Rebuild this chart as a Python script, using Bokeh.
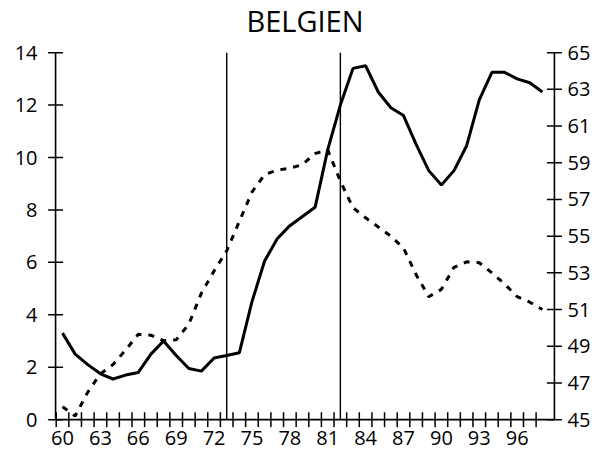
import math
from bokeh.plotting import figure
from bokeh.models import Range1d, LinearAxis, FixedTicker, ColumnDataSource, Label
from bokeh.embed import file_html
from bokeh.resources import INLINE

years = list(range(60, 99))
unemployment = [3.3, 2.5, 2.1, 1.75, 1.55, 1.7, 1.8, 2.5, 3.0, 2.45,
                1.95, 1.85, 2.35, 2.45, 2.55, 4.5, 6.05, 6.9, 7.4, 7.75,
                8.1, 10.3, 12.0, 13.4, 13.5, 12.5, 11.9, 11.6, 10.5, 9.5,
                8.95, 9.5, 10.45, 12.2, 13.25, 13.25, 13.0, 12.85, 12.5]
expenditure = [45.7, 45.2, 46.5, 47.5, 48.0, 48.8, 49.65, 49.6, 49.3, 49.35,
               50.2, 51.9, 53.1, 54.2, 55.8, 57.4, 58.35, 58.6, 58.7, 58.9,
               59.5, 59.7, 58.0, 56.55, 56.0, 55.5, 55.0, 54.35, 52.9, 51.7,
               52.1, 53.3, 53.6, 53.55, 53.0, 52.4, 51.7, 51.4, 51.0]
break_years = [73, 82]
x_labels = list(range(60, 97, 3))
x_tick_marks = [y - 0.5 for y in range(60, 99)]
left_ticks = list(range(0, 15, 2))
right_ticks = list(range(45, 66, 2))

FONT = "Open Sans"
# axis extents
AX0, AX1 = 59.45, 98.95      # x axis (years)
L0, L1 = 0, 14               # left axis
R0, R1 = 45, 65              # right axis
# frame extents (a little beyond the axes so the crossing ticks fit)
FX0, FX1 = 58.81, 99.59
FL0, FL1 = -0.3, 15.99


def to_right(v):
    return R0 + (v - L0) * (R1 - R0) / (L1 - L0)


p = figure(width=600, height=462,
           x_range=Range1d(FX0, FX1), y_range=Range1d(FL0, FL1),
           output_backend="svg", toolbar_location=None,
           min_border_left=47, min_border_right=38,
           min_border_top=0, min_border_bottom=35)
p.extra_y_ranges = {"right": Range1d(to_right(FL0), to_right(FL1))}
p.outline_line_color = None
p.xgrid.visible = False
p.ygrid.visible = False

# label-only axes
xa = p.xaxis[0]
xa.ticker = FixedTicker(ticks=x_labels)
xa.major_label_standoff = 3

ya = p.yaxis[0]
ya.ticker = FixedTicker(ticks=left_ticks)
ya.major_label_standoff = 10

ra = LinearAxis(y_range_name="right", ticker=FixedTicker(ticks=right_ticks))
ra.major_label_standoff = 5
p.add_layout(ra, "right")

for ax in [xa, ya, ra]:
    ax.axis_line_color = None
    ax.major_tick_line_color = None
    ax.minor_tick_line_color = None
    ax.major_tick_in = 0
    ax.major_tick_out = 0
    ax.minor_tick_in = 0
    ax.minor_tick_out = 0
    ax.major_label_text_font = FONT
    ax.major_label_text_font_size = "20px"
    ax.major_label_text_color = "black"

# axis lines
p.segment(x0=[AX0, AX0], y0=[L0, L0], x1=[AX1, AX0], y1=[L0, L1],
          line_color="black", line_width=1.6)
p.segment(x0=[AX1], y0=[R0], x1=[AX1], y1=[R1], y_range_name="right",
          line_color="black", line_width=1.6)

# crossing ticks
p.scatter(x=x_tick_marks, y=[L0] * len(x_tick_marks), marker="dash",
          angle=math.pi / 2, size=15, line_color="black", line_width=1.5)
p.scatter(x=[AX0] * len(left_ticks), y=left_ticks, marker="dash",
          size=15, line_color="black", line_width=1.5)
p.scatter(x=[AX1] * len(right_ticks), y=right_ticks, marker="dash",
          size=15, line_color="black", line_width=1.5, y_range_name="right")

src = ColumnDataSource(dict(year=years, u=unemployment, e=expenditure))

p.segment(x0=break_years, y0=[L0] * len(break_years),
          x1=break_years, y1=[L1] * len(break_years),
          line_color="black", line_width=1.4)
p.line("year", "e", source=src, y_range_name="right",
       line_color="black", line_width=3, line_dash="6 7")
p.line("year", "u", source=src, line_color="black", line_width=3)

title = Label(x=(AX0 + AX1) / 2, y=L1 + 1.22, text="BELGIEN",
              text_align="center", text_baseline="alphabetic",
              text_font=FONT, text_font_size="29px", text_color="black")
p.add_layout(title)

open("out.html", "w").write(file_html(p, INLINE))
